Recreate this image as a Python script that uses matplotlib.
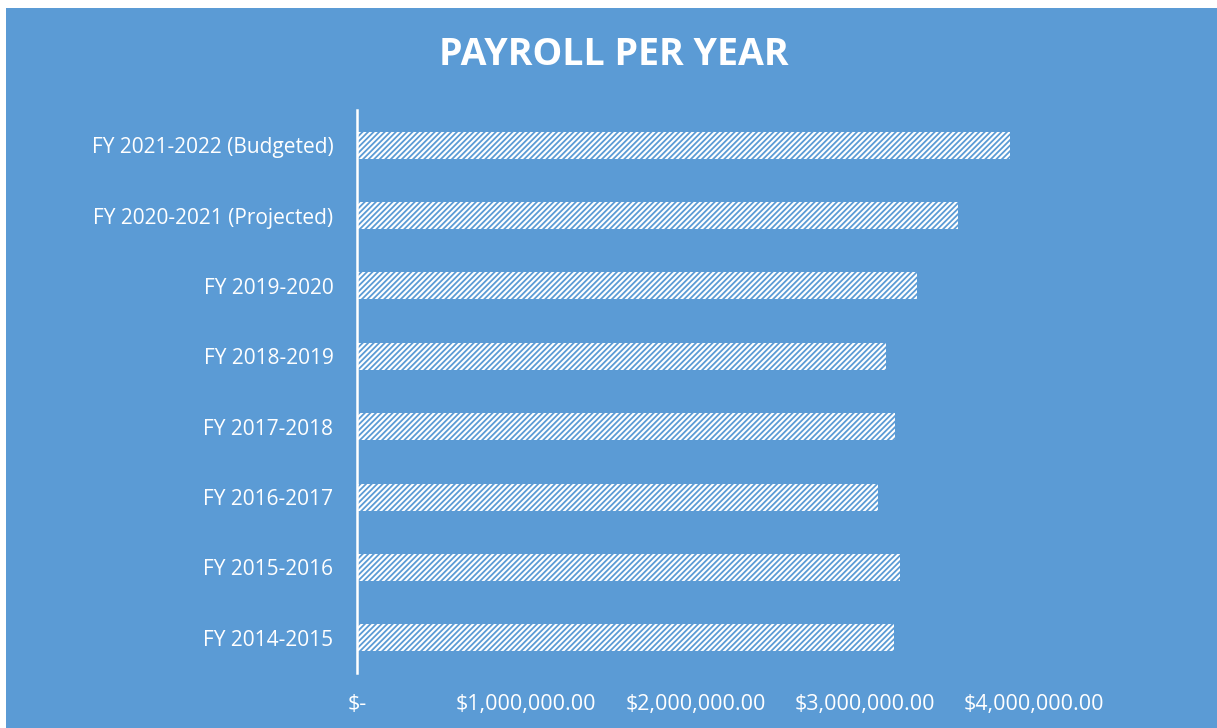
import matplotlib
matplotlib.use("Agg")
import matplotlib.pyplot as plt
from matplotlib.patches import Rectangle
from matplotlib.ticker import FuncFormatter

categories = ["FY 2014-2015", "FY 2015-2016", "FY 2016-2017", "FY 2017-2018",
              "FY 2018-2019", "FY 2019-2020", "FY 2020-2021 (Projected)",
              "FY 2021-2022 (Budgeted)"]
payroll = [3170000, 3210000, 3075000, 3180000, 3125000, 3305000, 3550000, 3860000]
xticks = [0, 1000000, 2000000, 3000000, 4000000]

BLUE = "#5B9BD5"
W, H = 1217, 728
plt.rcParams["font.family"] = ["Open Sans", "DejaVu Sans"]
plt.rcParams["hatch.linewidth"] = 1.3

fig = plt.figure(figsize=(W / 100, H / 100), dpi=100, facecolor="white")
fig.patches.append(Rectangle((6 / W, 0), 1 - 6 / W, 1 - 8 / H, transform=fig.transFigure,
                             facecolor=BLUE, edgecolor="none", zorder=-10))

left = 357 / W
right = (357 + 4.5 * 169.3) / W
bottom = (H - 673) / H
top = (H - 110) / H
ax = fig.add_axes([left, bottom, right - left, top - bottom])
ax.set_facecolor("none")

ypos = list(range(len(categories)))
ax.barh(ypos, payroll, height=0.385, color="white", edgecolor=BLUE, linewidth=0, hatch="//////")

ax.set_xlim(0, 4500000)
ax.set_ylim(-0.5, 7.5)
ax.set_yticks(ypos)
ax.set_yticklabels(categories)
ax.set_xticks(xticks)
ax.xaxis.set_major_formatter(FuncFormatter(lambda v, p: "$-" if v == 0 else "${:,.2f}".format(v)))

for s in ["top", "right", "bottom"]:
    ax.spines[s].set_visible(False)
ax.spines["left"].set_color("white")
ax.spines["left"].set_linewidth(1.8)
ax.tick_params(axis="both", length=0, colors="white")
ax.tick_params(axis="y", pad=17, labelsize=15)
ax.tick_params(axis="x", pad=15, labelsize=15.5)

fig.text(614 / W, 1 - 55 / H, "PAYROLL PER YEAR", color="white", fontsize=27,
         fontweight="bold", ha="center", va="center")

fig.savefig("out.png", dpi=100, facecolor="white")
